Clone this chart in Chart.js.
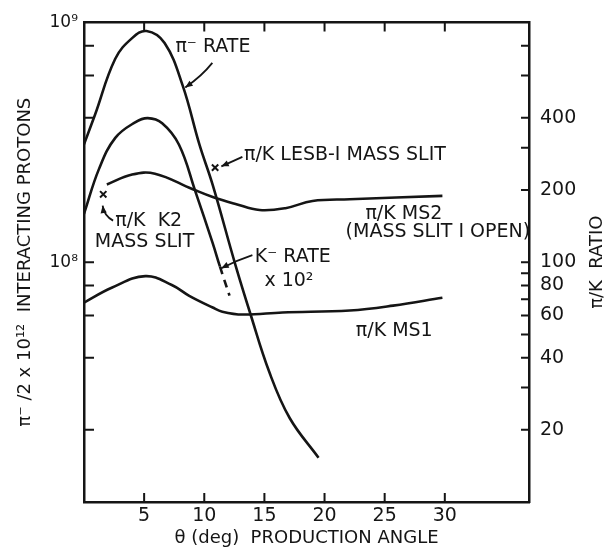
<!DOCTYPE html>
<html>
<head>
<meta charset="utf-8">
<script src="https://cdn.jsdelivr.net/npm/chart.js@4.4.1/dist/chart.umd.min.js"></script>
<style>
  html, body { margin: 0; padding: 0; background: #fff; }
</style>
</head>
<body>
<canvas id="rateChart" width="606" height="554"></canvas>
<script>
"use strict";

const ink = '#151515';
const FONT = '"DejaVu Sans", "Liberation Sans", sans-serif';

// pi- rate per 2x10^12 interacting protons (left axis)
const piAngle = [0, 0.9, 2.6, 4.0, 5.2, 6.7, 8.2, 9.6, 10.7, 12.6, 13.8, 15.4, 17.1, 19.5];
const piRate = [3.1e8, 4.1e8, 7.05e8, 8.6e8, 9.2e8, 8.2e8, 5.46e8, 3.09e8, 2.1e8, 9.7e7, 6.17e7, 3.49e7, 2.24e7, 1.53e7];

// K- rate x 10^2 (left axis), dashed from index kDashFrom on
const kAngle = [0, 1.25, 2.6, 4.25, 5.3, 6.5, 7.9, 9.25, 10.7, 11.3, 12.1];
const kRate = [1.59e8, 2.45e8, 3.3e8, 3.83e8, 3.99e8, 3.8e8, 3.09e8, 1.98e8, 1.2e8, 9.6e7, 7.25e7];
const kDashFrom = 9;

// pi/K ratio, MS2 (mass slit 1 open) and MS1 (right axis)
const ms2Angle = [1.9, 4.0, 5.9, 9.0, 10.7, 12.6, 14.6, 16.75, 19.0, 22.1, 29.8];
const ms2Ratio = [211, 232, 234, 202, 187, 175, 165, 168, 180, 183, 189];
const ms1Angle = [0, 2.3, 5.1, 7.3, 8.75, 10.7, 11.5, 13.2, 16.5, 22.1, 25.7, 29.8];
const ms1Ratio = [67.8, 78.2, 87.5, 80.3, 72.4, 64.7, 62.2, 60.5, 61.7, 62.9, 65.9, 71.1];

// single pi/K points: K2 mass slit, LESB-I mass slit
const slitAngle = [1.6, 10.9];
const slitRatio = [192, 248];

// axis ticks and labels
const angleTicks = [5, 10, 15, 20, 25, 30];
const rateTicks = [2e7, 4e7, 6e7, 8e7, 1e8, 4e8, 6e8, 8e8];
const rateLabels = [1e8, 1e9];
const rateText = ['10\u2078', '10\u2079'];
const ratioTicks = [20, 30, 40, 50, 60, 70, 80, 90, 100, 200, 300, 400, 600, 800];
const ratioLabels = [20, 40, 60, 80, 100, 200, 400];

// text notes placed in data units (angle, left axis value)
const notes = [
    {text: '\u03c0\u207b RATE', x: 7.6, y: 7.9e8},
    {text: '\u03c0/K LESB-I MASS SLIT', x: 13.3, y: 2.81e8},
    {text: '\u03c0/K  K2', x: 2.6, y: 1.49e8},
    {text: 'MASS SLIT', x: 0.9, y: 1.21e8},
    {text: '\u03c0/K MS2', x: 23.4, y: 1.58e8},
    {text: '(MASS SLIT I OPEN)', x: 21.75, y: 1.33e8},
    {text: 'K\u207b RATE', x: 14.2, y: 1.05e8},
    {text: 'x 10\u00b2', x: 15.0, y: 8.36e7},
    {text: '\u03c0/K MS1', x: 22.6, y: 5.15e7},
];

// pointer arrows, last point is the head
const arrows = [
    [[10.67, 6.78e8], [9.83, 6.0e8], [8.42, 5.35e8]],
    [[13.17, 2.75e8], [11.42, 2.51e8]],
    [[2.42, 1.49e8], [1.67, 1.56e8], [1.55, 1.72e8]],
    [[14.0, 1.07e8], [12.75, 1.02e8], [11.42, 9.44e7]],
];

const toPoints = (xs, ys) => xs.map((x, i) => ({x: x, y: ys[i]}));

const lineStyle = {
    borderColor: ink,
    borderWidth: 2.6,
    pointRadius: 0,
    fill: false,
    tension: 0.4,
};

const inwardTicks = {
    id: 'inwardTicks',
    afterDatasetsDraw(chart) {
        const {ctx, chartArea: a, scales} = chart;
        ctx.save();
        ctx.strokeStyle = ink;
        ctx.lineWidth = 2;
        ctx.beginPath();
        angleTicks.forEach(v => {
            const px = scales.x.getPixelForValue(v);
            ctx.moveTo(px, a.bottom);
            ctx.lineTo(px, a.bottom - 9);
            ctx.moveTo(px, a.top);
            ctx.lineTo(px, a.top + 9);
        });
        rateTicks.forEach(v => {
            const py = scales.y.getPixelForValue(v);
            ctx.moveTo(a.left, py);
            ctx.lineTo(a.left + 10, py);
        });
        ratioTicks.forEach(v => {
            const py = scales.y1.getPixelForValue(v);
            ctx.moveTo(a.right - 8, py);
            ctx.lineTo(a.right + 1, py);
        });
        ctx.stroke();
        ctx.restore();
    }
};

const annotations = {
    id: 'annotations',
    afterDatasetsDraw(chart) {
        const {ctx, scales} = chart;
        const sx = v => scales.x.getPixelForValue(v);
        const sy = v => scales.y.getPixelForValue(v);
        ctx.save();
        ctx.fillStyle = ink;
        ctx.strokeStyle = ink;
        ctx.font = '19px ' + FONT;
        ctx.textAlign = 'left';
        ctx.textBaseline = 'middle';
        notes.forEach(n => ctx.fillText(n.text, sx(n.x), sy(n.y)));

        ctx.lineWidth = 1.8;
        arrows.forEach(pts => {
            const p = pts.map(q => [sx(q[0]), sy(q[1])]);
            ctx.beginPath();
            ctx.moveTo(p[0][0], p[0][1]);
            if (p.length === 3) {
                ctx.quadraticCurveTo(p[1][0], p[1][1], p[2][0], p[2][1]);
            } else {
                ctx.lineTo(p[1][0], p[1][1]);
            }
            ctx.stroke();
            const end = p[p.length - 1];
            const prev = p[p.length - 2];
            const ang = Math.atan2(end[1] - prev[1], end[0] - prev[0]);
            ctx.beginPath();
            ctx.moveTo(end[0], end[1]);
            ctx.lineTo(end[0] - 8 * Math.cos(ang - 0.4), end[1] - 8 * Math.sin(ang - 0.4));
            ctx.lineTo(end[0] - 8 * Math.cos(ang + 0.4), end[1] - 8 * Math.sin(ang + 0.4));
            ctx.closePath();
            ctx.fill();
        });

        // right axis title reads bottom to top
        ctx.font = '18px ' + FONT;
        ctx.textAlign = 'center';
        ctx.translate(597, (chart.chartArea.top + chart.chartArea.bottom) / 2);
        ctx.rotate(-Math.PI / 2);
        ctx.fillText('\u03c0/K  RATIO', 0, 0);
        ctx.restore();
    }
};

new Chart(document.getElementById('rateChart'), {
    type: 'line',
    data: {
        datasets: [
            Object.assign({label: 'pi- rate', data: toPoints(piAngle, piRate), yAxisID: 'y'}, lineStyle),
            Object.assign({
                label: 'K- rate x 10^2',
                data: toPoints(kAngle, kRate),
                yAxisID: 'y',
                segment: {
                    borderDash: ctx => ctx.p0DataIndex >= kDashFrom ? [8, 6] : undefined,
                },
            }, lineStyle),
            Object.assign({label: 'pi/K MS2', data: toPoints(ms2Angle, ms2Ratio), yAxisID: 'y1'}, lineStyle),
            Object.assign({label: 'pi/K MS1', data: toPoints(ms1Angle, ms1Ratio), yAxisID: 'y1'}, lineStyle),
            {
                label: 'mass slit points',
                data: toPoints(slitAngle, slitRatio),
                yAxisID: 'y1',
                showLine: false,
                pointStyle: 'crossRot',
                pointRadius: 4.5,
                pointBorderWidth: 2,
                borderColor: ink,
                backgroundColor: ink,
            },
        ]
    },
    options: {
        responsive: false,
        animation: false,
        layout: {padding: 0},
        plugins: {
            legend: {display: false},
            tooltip: {enabled: false},
        },
        scales: {
            x: {
                type: 'linear',
                position: 'bottom',
                min: 0,
                max: 37,
                afterBuildTicks: scale => {
                    scale.ticks = angleTicks.map(v => ({value: v}));
                },
                afterFit: scale => {
                    scale.height = 52;
                },
                grid: {display: false, drawTicks: false},
                border: {display: true, color: ink, width: 2.5},
                ticks: {
                    color: ink,
                    padding: 3,
                    maxRotation: 0,
                    font: {family: FONT, size: 19},
                },
                title: {
                    display: true,
                    text: '\u03b8 (deg)  PRODUCTION ANGLE',
                    color: ink,
                    padding: {top: 0, bottom: 5},
                    font: {family: FONT, size: 18},
                },
            },
            xTop: {
                type: 'linear',
                position: 'top',
                min: 0,
                max: 37,
                afterFit: scale => {
                    scale.height = 16;
                },
                grid: {display: false, drawTicks: false},
                border: {display: true, color: ink, width: 2.5},
                ticks: {display: false},
            },
            y: {
                type: 'logarithmic',
                position: 'left',
                min: 1e7,
                max: 1e9,
                afterBuildTicks: scale => {
                    scale.ticks = rateLabels.map(v => ({value: v}));
                },
                afterFit: scale => {
                    scale.width = 84;
                },
                grid: {display: false, drawTicks: false},
                border: {display: true, color: ink, width: 2.5},
                ticks: {
                    color: ink,
                    padding: 6,
                    font: {family: FONT, size: 17},
                    callback: v => rateText[rateLabels.indexOf(v)],
                },
                title: {
                    display: true,
                    text: '\u03c0\u207b /2 x 10\u00b9\u00b2  INTERACTING PROTONS',
                    color: ink,
                    padding: {top: 15, bottom: 0},
                    font: {family: FONT, size: 18},
                },
            },
            y1: {
                type: 'logarithmic',
                position: 'right',
                min: 10,
                max: 1000,
                afterBuildTicks: scale => {
                    scale.ticks = ratioLabels.map(v => ({value: v}));
                },
                afterFit: scale => {
                    scale.width = 77;
                },
                grid: {display: false, drawTicks: false},
                border: {display: true, color: ink, width: 2.5},
                ticks: {
                    color: ink,
                    padding: 11,
                    font: {family: FONT, size: 19},
                    callback: v => String(v),
                },
            },
        },
    },
    plugins: [inwardTicks, annotations],
});
</script>
</body>
</html>
